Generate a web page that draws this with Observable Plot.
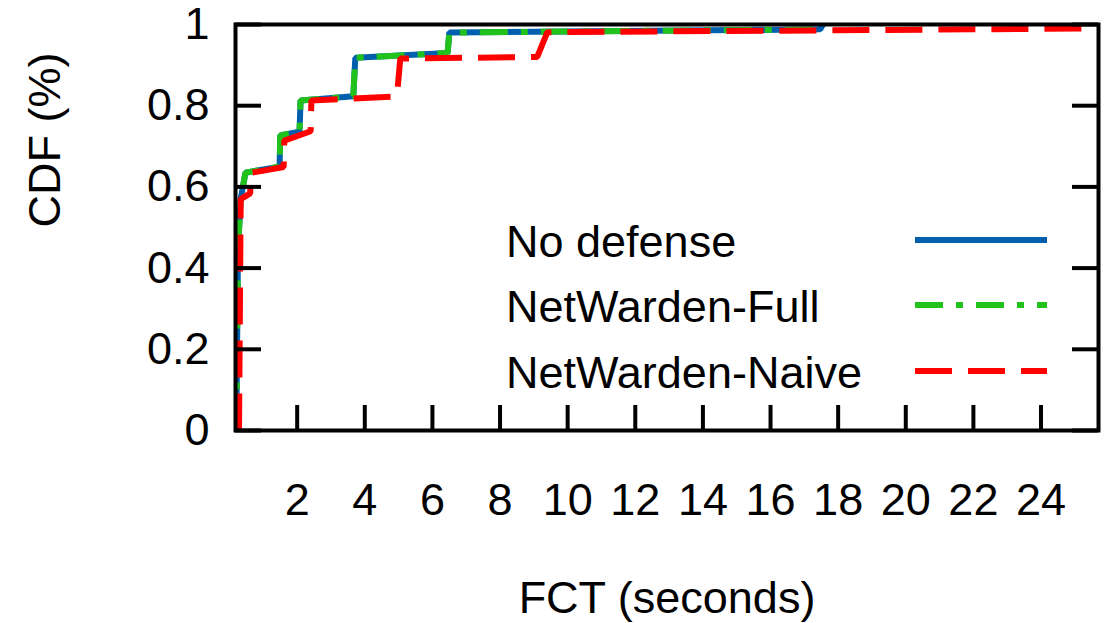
<!DOCTYPE html>
<html>
<head>
<meta charset="utf-8">
<script src="https://cdn.jsdelivr.net/npm/d3@7"></script>
<script src="https://cdn.jsdelivr.net/npm/@observablehq/plot@0.6"></script>
<style>
  html, body { margin: 0; padding: 0; background: #fff; }
  #wrap { position: relative; width: 1110px; height: 623px; font-family: "Liberation Sans", Arial, Helvetica, sans-serif; }
  #legend { position: absolute; left: 0; top: 0; width: 1110px; height: 623px; pointer-events: none; }
  .row { position: absolute; left: 506px; height: 66px; line-height: 66px; font-size: 45px; color: #000; white-space: nowrap; }
  .sample { position: absolute; left: 915px; width: 132px; height: 66px; }
</style>
</head>
<body>
<div id="wrap"><div id="legend"></div></div>
<script>
// ---- data ----
const seriesNames = ["No defense", "NetWarden-Full", "NetWarden-Naive"];
const seriesColors = ["#0060ad", "#22c21c", "#ff0000"];
const seriesDash = [null, "28,13,7,13", "37,16"];

const noDefenseX = [0.2, 0.25, 0.33, 0.47, 1.48, 1.5, 2.07, 2.1, 3.66, 3.72, 6.45, 6.5, 17.47, 17.55];
const noDefenseY = [0, 0.45, 0.57, 0.635, 0.65, 0.727, 0.736, 0.813, 0.823, 0.918, 0.93, 0.98, 0.988, 1.0];

const fullX = [0.2, 0.25, 0.33, 0.47, 1.48, 1.5, 2.07, 2.1, 3.66, 3.72, 6.45, 6.5, 17.47, 17.55];
const fullY = [0, 0.45, 0.57, 0.635, 0.65, 0.727, 0.736, 0.813, 0.823, 0.918, 0.93, 0.98, 0.988, 1.0];

const naiveX = [0.28, 0.33, 0.61, 0.63, 0.8, 1.6, 1.62, 2.4, 2.42, 4.95, 5.05, 9.1, 9.4, 25.3];
const naiveY = [0, 0.57, 0.584, 0.635, 0.637, 0.649, 0.714, 0.737, 0.813, 0.823, 0.916, 0.92, 0.981, 0.99];

const xTicks = [2, 4, 6, 8, 10, 12, 14, 16, 18, 20, 22, 24];
const xTickLabels = ["2", "4", "6", "8", "10", "12", "14", "16", "18", "20", "22", "24"];
const yTicks = [0, 0.2, 0.4, 0.6, 0.8, 1];
const yTickLabels = ["0", "0.2", "0.4", "0.6", "0.8", "1"];

const xLabel = "FCT (seconds)";
const yLabel = "CDF (%)";

// ---- build table ----
const seriesX = [noDefenseX, fullX, naiveX];
const seriesY = [noDefenseY, fullY, naiveY];
const rows = [];
seriesNames.forEach((name, s) => {
  seriesX[s].forEach((x, i) => rows.push({series: name, x, y: seriesY[s][i]}));
});

const W = 1110, H = 623;
const mL = 235, mR = 12, mT = 24, mB = 193;
const frameW = W - mL - mR, frameH = H - mT - mB;
const FS = 45;

const lineMarks = seriesNames.map((name, s) =>
  Plot.line(rows.filter(d => d.series === name), {
    x: "x", y: "y",
    stroke: seriesColors[s],
    strokeWidth: 6,
    strokeDasharray: seriesDash[s] || undefined,
    strokeLinecap: "butt",
    strokeLinejoin: "miter",
    clip: true
  })
);

const chart = Plot.plot({
  width: W, height: H,
  marginLeft: mL, marginRight: mR, marginTop: mT, marginBottom: mB,
  style: {fontFamily: '"Liberation Sans", Arial, Helvetica, sans-serif', fontSize: FS + "px", color: "#000", background: "#fff"},
  x: {domain: [0.176, 25.7]},
  y: {domain: [0, 1]},
  marks: [
    ...lineMarks,
    Plot.frame({stroke: "#000", strokeWidth: 4}),
    Plot.tickX(xTicks, {x: d => d, insetTop: frameH - 25, stroke: "#000", strokeWidth: 4}),
    Plot.tickY(yTicks, {y: d => d, insetRight: frameW - 26, stroke: "#000", strokeWidth: 4}),
    Plot.tickY(yTicks, {y: d => d, insetLeft: frameW - 26, stroke: "#000", strokeWidth: 4}),
    Plot.axisX(xTicks, {tickSize: 0, tickPadding: 53, fontSize: FS, tickFormat: d => xTickLabels[xTicks.indexOf(d)], label: null}),
    Plot.axisY(yTicks, {tickSize: 0, tickPadding: 26, fontSize: FS, tickFormat: d => yTickLabels[yTicks.indexOf(d)], label: null}),
    Plot.text([xLabel], {frameAnchor: "bottom", dy: 168, text: d => d, fontSize: FS, lineAnchor: "middle", fill: "#000"}),
    Plot.text([yLabel], {frameAnchor: "left", dx: -190, rotate: -90, text: d => d, fontSize: FS, lineAnchor: "middle", fill: "#000"})
  ]
});
document.getElementById("wrap").prepend(chart);

// ---- legend ----
const legend = d3.select("#legend");
const rowTops = [209, 274, 340];
seriesNames.forEach((name, s) => {
  legend.append("div").attr("class", "row").style("top", rowTops[s] + "px").text(name);
  const svg = legend.append("svg").attr("class", "sample")
    .attr("width", 132).attr("height", 66)
    .style("top", (rowTops[s] - 2) + "px");
  svg.append("line")
    .attr("x1", 0).attr("x2", 132).attr("y1", 33).attr("y2", 33)
    .attr("stroke", seriesColors[s]).attr("stroke-width", 6)
    .attr("stroke-dasharray", seriesDash[s])
    .attr("stroke-linecap", "butt");
});
</script>
</body>
</html>
